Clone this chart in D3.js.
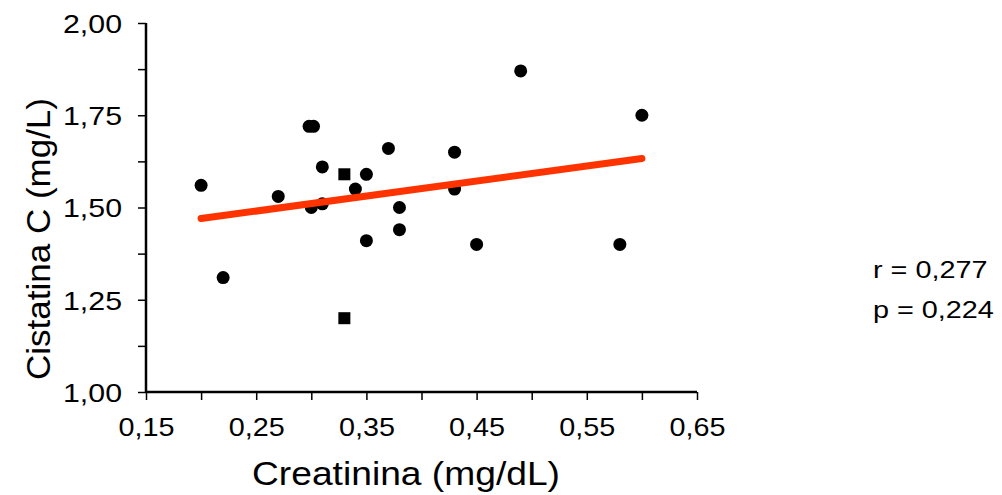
<!DOCTYPE html>
<html><head><meta charset="utf-8">
<script src="https://cdn.jsdelivr.net/npm/d3@7"></script>
<style>body{margin:0;background:#fff}svg{display:block}text{font-family:"Liberation Sans",Arial,sans-serif;fill:#000}</style>
</head><body><svg id="c" width="1002" height="495"></svg>
<script>
const creatinina = [0.20,0.22,0.27,0.298,0.302,0.30,0.31,0.31,0.34,0.35,0.35,0.37,0.38,0.38,0.43,0.43,0.45,0.49,0.58,0.60];
const cistatina  = [1.56,1.31,1.53,1.72,1.72,1.50,1.61,1.51,1.55,1.59,1.41,1.66,1.50,1.44,1.65,1.55,1.40,1.87,1.40,1.75];
const sqX = [0.33,0.33];
const sqY = [1.59,1.20];
const fitX = [0.20,0.60];
const fitY = [1.47,1.633];
const xTicks = [0.15,0.20,0.25,0.30,0.35,0.40,0.45,0.50,0.55,0.60,0.65];
const xLabels = [0.15,0.25,0.35,0.45,0.55,0.65];
const yTicks = [1.0,1.125,1.25,1.375,1.5,1.625,1.75,1.875,2.0];
const yLabels = [1.0,1.25,1.5,1.75,2.0];
const stats = ["r = 0,277","p = 0,224"];

const svg = d3.select("#c");
const x = d3.scaleLinear().domain([0.15,0.65]).range([146,697]);
const y = d3.scaleLinear().domain([1,2]).range([392,23]);
const fmt = v => d3.format(".2f")(v).replace(".",",");
const isLab = (arr,d) => arr.some(l=>Math.abs(l-d)<1e-9);

const gx = svg.append("g").attr("transform","translate(0,392)")
  .call(d3.axisBottom(x).tickValues(xTicks).tickSize(8).tickFormat(d => isLab(xLabels,d)?fmt(d):""));
const gy = svg.append("g").attr("transform","translate(146,0)")
  .call(d3.axisLeft(y).tickValues(yTicks).tickSize(8).tickFormat(d => isLab(yLabels,d)?fmt(d):""));
[gx,gy].forEach(g=>{
  g.select(".domain").attr("stroke","#000").attr("stroke-width",2.5);
  g.selectAll(".tick line").attr("stroke","#000").attr("stroke-width",1.5);
  g.selectAll("text").attr("font-family","Liberation Sans, Arial, sans-serif").attr("fill","#000");
});
gx.select(".domain").attr("d","M146,0H697");
gy.select(".domain").attr("d","M0,23V392");
gx.selectAll(".tick text").filter(function(){return this.textContent!=="";})
  .attr("font-size",26).attr("y",44).attr("dy",0)
  .attr("textLength",56).attr("lengthAdjust","spacingAndGlyphs");
gy.selectAll(".tick text").filter(function(){return this.textContent!=="";})
  .attr("font-size",26).attr("x",-24).attr("dy","0.36em")
  .attr("textLength",59).attr("lengthAdjust","spacingAndGlyphs");

svg.append("text").attr("x",406).attr("y",485).attr("text-anchor","middle").attr("font-size",33)
  .attr("textLength",308).attr("lengthAdjust","spacingAndGlyphs").text("Creatinina (mg/dL)");
svg.append("text").attr("transform","translate(50,239) rotate(-90)").attr("text-anchor","middle").attr("font-size",34)
  .attr("textLength",282).attr("lengthAdjust","spacingAndGlyphs").text("Cistatina C (mg/L)");

svg.append("g").selectAll("circle").data(creatinina).join("circle")
  .attr("cx",d=>x(d)).attr("cy",(d,i)=>y(cistatina[i])).attr("r",6.5).attr("fill","#000");
svg.append("g").selectAll("rect").data(sqX).join("rect")
  .attr("x",d=>x(d)-6).attr("y",(d,i)=>y(sqY[i])-6).attr("width",12).attr("height",12).attr("fill","#000");

svg.append("line").attr("x1",x(fitX[0])).attr("y1",y(fitY[0])).attr("x2",x(fitX[1])).attr("y2",y(fitY[1]))
  .attr("stroke","#ff3300").attr("stroke-width",7).attr("stroke-linecap","round");

svg.append("g").attr("transform","translate(873,0) scale(1.2,1)")
  .selectAll("text").data(stats).join("text")
  .attr("x",0).attr("y",(d,i)=>278+i*40).attr("font-size",24).text(d=>d);
</script></body></html>
